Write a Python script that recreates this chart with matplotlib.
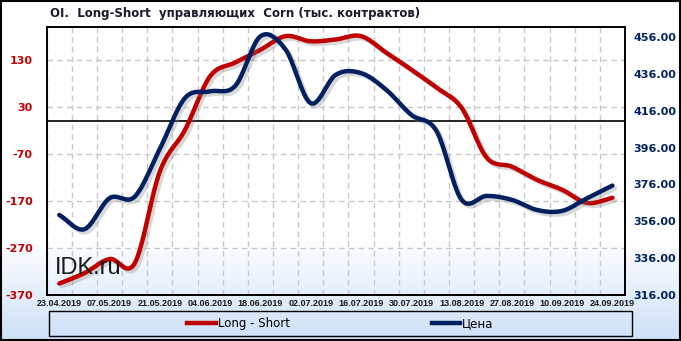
import numpy as np
import matplotlib
matplotlib.use("Agg")
import matplotlib.pyplot as plt
import matplotlib.patheffects as pe
from matplotlib.lines import Line2D
from matplotlib.patches import Rectangle

# weekly data, 23.04.2019 .. 24.09.2019
dates = ["23.04.2019", "30.04.2019", "07.05.2019", "14.05.2019", "21.05.2019",
         "28.05.2019", "04.06.2019", "11.06.2019", "18.06.2019", "25.06.2019",
         "02.07.2019", "09.07.2019", "16.07.2019", "23.07.2019", "30.07.2019",
         "06.08.2019", "13.08.2019", "20.08.2019", "27.08.2019", "03.09.2019",
         "10.09.2019", "17.09.2019", "24.09.2019"]
long_short = [-345, -323, -293, -302, -107, -19, 95, 124, 151, 180,
              169, 173, 180, 145, 109, 71, 28, -78, -97, -125,
              -146, -174, -163]
price = [359.5, 351.8, 368.6, 369.4, 395.3, 422.8, 426.4, 429.4, 456.2, 449.0,
         420.0, 435.4, 436.3, 427.3, 413.7, 405.0, 367.7, 369.8, 367.7, 362.2,
         361.7, 368.6, 375.4]

left_ticks = [-370, -270, -170, -70, 30, 130]
right_ticks = [316, 336, 356, 376, 396, 416, 436, 456]

RED = "#c00000"
BLUE = "#002060"

plt.rcParams["axes.unicode_minus"] = False


def smooth(x, y, n=20):
    # catmull-rom curve through the points (like the "smoothed line" option)
    x = np.asarray(x, float)
    y = np.asarray(y, float)
    px = np.concatenate([[2 * x[0] - x[1]], x, [2 * x[-1] - x[-2]]])
    py = np.concatenate([[2 * y[0] - y[1]], y, [2 * y[-1] - y[-2]]])
    t = np.linspace(0, 1, n, endpoint=False)[:, None]
    def seg(p):
        p0, p1, p2, p3 = p[:-3], p[1:-2], p[2:-1], p[3:]
        return 0.5 * (2 * p1 + (-p0 + p2) * t + (2 * p0 - 5 * p1 + 4 * p2 - p3) * t ** 2
                      + (-p0 + 3 * p1 - 3 * p2 + p3) * t ** 3)
    sx = np.append(seg(px).T.ravel(), x[-1])
    sy = np.append(seg(py).T.ravel(), y[-1])
    return sx, sy


fig = plt.figure(figsize=(6.81, 3.41), dpi=100)

# background gradient
bg = fig.add_axes([0, 0, 1, 1], zorder=-10)
h = 341
frac = np.linspace(0, 1, h)
k = np.clip((frac - 0.70) / 0.30, 0, 1)
top = np.array([1.0, 1.0, 1.0])
bot = np.array([0.80, 0.88, 0.97])
grad = top[None, :] * (1 - k[:, None]) + bot[None, :] * k[:, None]
bg.imshow(grad[:, None, :], aspect="auto", extent=[0, 1, 0, 1])
bg.set_axis_off()

ax = fig.add_axes([46.7 / 681, 1 - 295.3 / 341, (625 - 46.7) / 681, (295.3 - 26.7) / 341])
ax.set_facecolor("none")
x = np.arange(len(dates))

ax.set_xlim(-0.5, len(dates) - 0.5)
ax.set_ylim(-370, 200)
ax.set_yticks(left_ticks)
ax.set_yticklabels([str(v) for v in left_ticks], color=RED, fontweight="bold", fontsize=8)
ax.set_xticks(x[::2])
ax.set_xticklabels(dates[::2], fontsize=6.5, fontweight="bold", family="Liberation Sans", color="#1a1a1a")
ax.set_xticks(np.arange(len(dates) + 1) - 0.5, minor=True)
ax.tick_params(which="both", length=0)
ax.tick_params(axis="x", pad=3)
ax.tick_params(axis="y", pad=10)
ax.grid(True, which="minor", axis="x", ls=(0, (4, 3)), color="#c8c8c8", lw=1)
ax.grid(True, which="major", axis="y", ls=(0, (4, 3)), color="#c8c8c8", lw=1)
ax.axhline(0, color="black", lw=1.2, zorder=2)
for s in ax.spines.values():
    s.set_linewidth(1.2)

sx, sy = smooth(x, long_short)
ax.plot(sx, sy, color=RED, lw=3.2, solid_capstyle="round", zorder=3,
        path_effects=[pe.SimpleLineShadow(offset=(2, -2), shadow_color="gray", alpha=0.3), pe.Normal()])

ax2 = ax.twinx()
ax2.set_facecolor("none")
ax2.set_ylim(316, 461.4)
ax2.set_yticks(right_ticks)
ax2.set_yticklabels(["%.2f" % v for v in right_ticks], color=BLUE, fontweight="bold", fontsize=8)
ax2.tick_params(length=0, pad=6)
bx, by = smooth(x, price)
ax2.plot(bx, by, color=BLUE, lw=3.2, solid_capstyle="round", zorder=3,
         path_effects=[pe.SimpleLineShadow(offset=(2, -2), shadow_color="gray", alpha=0.3), pe.Normal()])
for s in ax2.spines.values():
    s.set_linewidth(1.2)

ax.text(0.015, 0.10, "IDK.ru", transform=ax.transAxes, fontsize=17,
        family="Liberation Sans", color="#1a1a1a", va="center", ha="left", zorder=5)

fig.text(235 / 681, 1 - 13 / 341, "OI.  Long-Short  управляющих  Corn (тыс. контрактов)",
         ha="center", va="center", fontsize=8.5, fontweight="bold", color="#1a1a2a")

# legend
fig.patches.append(Rectangle((49 / 681, 1 - 336 / 341), (632 - 49) / 681, 25 / 341,
                             transform=fig.transFigure, fill=False, ec="black", lw=1))
handles = [Line2D([], [], color=RED, lw=3.2), Line2D([], [], color=BLUE, lw=3.2)]
fig.legend(handles, ["Long - Short", "Цена"], loc="center", ncol=2, frameon=False,
           bbox_to_anchor=(340.5 / 681, 1 - 323.5 / 341), fontsize=8.5,
           handlelength=2.4, handletextpad=0.2, columnspacing=12)

fig.patches.append(Rectangle((0.001, 0.002), 0.997, 0.995, transform=fig.transFigure,
                             fill=False, ec="black", lw=1.5))

fig.savefig("out.png", dpi=100)
